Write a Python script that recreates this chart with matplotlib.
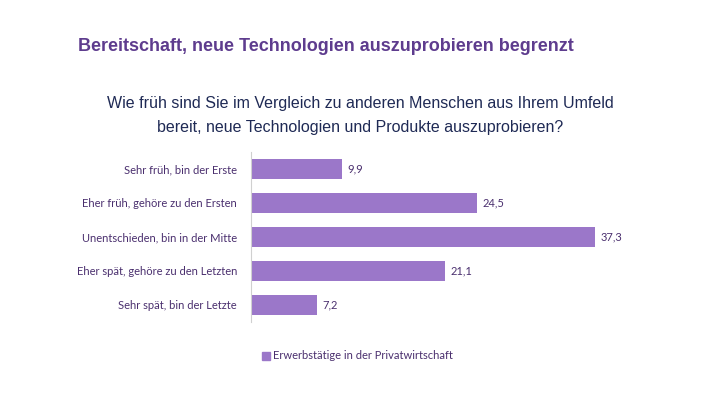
import matplotlib
matplotlib.use("Agg")
import matplotlib.pyplot as plt
from matplotlib.patches import Rectangle

categories = [
    "Sehr früh, bin der Erste",
    "Eher früh, gehöre zu den Ersten",
    "Unentschieden, bin in der Mitte",
    "Eher spät, gehöre zu den Letzten",
    "Sehr spät, bin der Letzte",
]
values = [9.9, 24.5, 37.3, 21.1, 7.2]
series_name = "Erwerbstätige in der Privatwirtschaft"

bar_color = "#9B77C9"
label_color = "#4A2F6E"

fig = plt.figure(figsize=(7.2, 4.05), dpi=100)
fig.patch.set_facecolor("white")

fig.text(0.108, 0.885, "Bereitschaft, neue Technologien auszuprobieren begrenzt",
         fontsize=13, fontweight="bold", color="#5E3C8E", family="Liberation Sans",
         va="center")
fig.text(0.5, 0.715, "Wie früh sind Sie im Vergleich zu anderen Menschen aus Ihrem Umfeld\n"
         "bereit, neue Technologien und Produkte auszuprobieren?",
         fontsize=11.5, color="#1F2A55", family="Liberation Sans",
         ha="center", va="center", linespacing=1.75)

ax = fig.add_axes([0.3486, 0.205, 0.512, 0.42])
y = list(range(len(categories)))
ax.barh(y, values, height=0.6, color=bar_color)
for yi, v in zip(y, values):
    ax.text(v + 0.6, yi, f"{v:.1f}".replace(".", ","), va="center",
            fontsize=8, color=label_color, family="Lato")
ax.set_xlim(0, 40)
ax.set_ylim(len(categories) - 0.5, -0.5)
ax.set_yticks(y)
ax.set_yticklabels(categories, fontsize=8, color=label_color, family="Lato")
ax.tick_params(axis="y", length=0, pad=10)
ax.set_xticks([])
for s in ["top", "right", "bottom"]:
    ax.spines[s].set_visible(False)
ax.spines["left"].set_color("#D0D0D0")

fig.patches.append(Rectangle((0.364, 0.112), 0.011, 0.02, transform=fig.transFigure,
                             color=bar_color))
fig.text(0.379, 0.122, series_name, fontsize=8, color=label_color, family="Lato",
         va="center")

fig.savefig("out.png", dpi=100)
